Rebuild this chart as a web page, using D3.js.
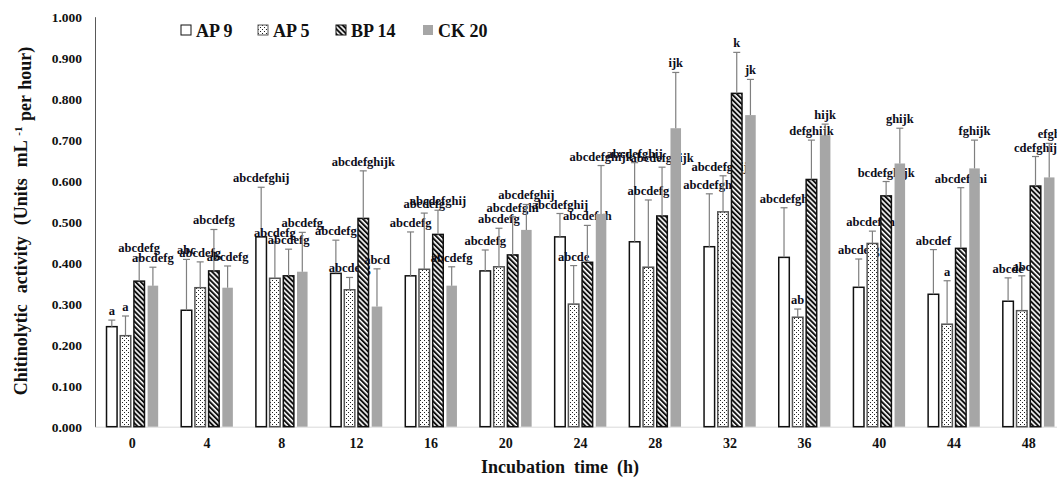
<!DOCTYPE html>
<html>
<head>
<meta charset="utf-8">
<script src="https://cdn.jsdelivr.net/npm/d3@7"></script>
<style>
  body { margin: 0; background: #fff; }
</style>
</head>
<body>
<script>
// Data
let hours = ["0", "4", "8", "12", "16", "20", "24", "28", "32", "36", "40", "44", "48"];
let seriesNames = ["AP 9", "AP 5", "BP 14", "CK 20"];

let ap9 = [0.244, 0.284, 0.463, 0.374, 0.368, 0.380, 0.463, 0.451, 0.439, 0.413, 0.340, 0.323, 0.306];
let ap5 = [0.222, 0.339, 0.362, 0.334, 0.384, 0.390, 0.299, 0.389, 0.524, 0.267, 0.447, 0.250, 0.283];
let bp14 = [0.355, 0.380, 0.368, 0.508, 0.469, 0.419, 0.401, 0.514, 0.813, 0.603, 0.563, 0.435, 0.587];
let ck20 = [0.344, 0.339, 0.378, 0.293, 0.344, 0.480, 0.519, 0.728, 0.760, 0.711, 0.642, 0.630, 0.608];

let ap9Err = [0.016, 0.124, 0.121, 0.081, 0.107, 0.051, 0.057, 0.193, 0.129, 0.121, 0.069, 0.109, 0.057];
let ap5Err = [0.048, 0.063, 0.089, 0.030, 0.137, 0.094, 0.094, 0.164, 0.088, 0.020, 0.030, 0.106, 0.085];
let bp14Err = [0.058, 0.101, 0.065, 0.116, 0.059, 0.093, 0.090, 0.119, 0.100, 0.096, 0.035, 0.148, 0.072];
let ck20Err = [0.045, 0.053, 0.096, 0.092, 0.046, 0.062, 0.118, 0.136, 0.087, 0.027, 0.086, 0.069, 0.083];

let ap9Letters = ["a", "abc", "abcdefghij", "abcdefg", "abcdefg", "abcdefg", "abcdefghij", "abcdefghij", "abcdefghi", "abcdefgh", "abcdefg", "abcdef", "abcde"];
let ap5Letters = ["a", "abcdefg", "abcdefg", "abcdefg", "abcdefg", "abcdefg", "abcde", "abcdefg", "abcdefghijk", "ab", "abcdefghi", "a", "abc"];
let bp14Letters = ["abcdefg", "abcdefg", "abcdefg", "abcdefghijk", "abcdefghij", "abcdefghi", "abcdefgh", "abcdefghijk", "k", "defghijk", "bcdefghijk", "abcdefghi", "cdefghij"];
let ck20Letters = ["abcdefg", "abcdefg", "abcdefg", "abcd", "abcdefg", "abcdefghij", "abcdefghijk", "ijk", "jk", "hijk", "ghijk", "fghijk", "efgh"];

let yTicks = [0, 0.1, 0.2, 0.3, 0.4, 0.5, 0.6, 0.7, 0.8, 0.9, 1.0];

// Dimensions
let width = 1057;
let height = 477;
let margin = { top: 16.7, bottom: 50.3, left: 95, right: -9 };
let serif = "'Liberation Serif', 'Times New Roman', Times, 'DejaVu Serif', serif";

let svg = d3
  .select("body")
  .append("svg")
  .attr("width", width)
  .attr("height", height)
  .style("background", "#fff")
  .style("font-family", serif)
  .style("font-weight", "bold");

// Fill patterns
let defs = svg.append("defs");

let dots = defs
  .append("pattern")
  .attr("id", "dots")
  .attr("patternUnits", "userSpaceOnUse")
  .attr("width", 4)
  .attr("height", 4);
dots.append("rect").attr("width", 4).attr("height", 4).attr("fill", "#fff");
dots.append("rect").attr("x", 0).attr("y", 0).attr("width", 1).attr("height", 1).attr("fill", "#222");
dots.append("rect").attr("x", 2).attr("y", 2).attr("width", 1).attr("height", 1).attr("fill", "#222");

let stripes = defs
  .append("pattern")
  .attr("id", "stripes")
  .attr("patternUnits", "userSpaceOnUse")
  .attr("width", 3.6)
  .attr("height", 3.6)
  .attr("patternTransform", "rotate(-45)");
stripes.append("rect").attr("width", 3.6).attr("height", 3.6).attr("fill", "#fff");
stripes.append("rect").attr("width", 2).attr("height", 3.6).attr("fill", "#111");

let series = [
  { name: seriesNames[0], values: ap9, err: ap9Err, letters: ap9Letters, fill: "#fff", stroke: "#111" },
  { name: seriesNames[1], values: ap5, err: ap5Err, letters: ap5Letters, fill: "url(#dots)", stroke: "#555" },
  { name: seriesNames[2], values: bp14, err: bp14Err, letters: bp14Letters, fill: "url(#stripes)", stroke: "#111" },
  { name: seriesNames[3], values: ck20, err: ck20Err, letters: ck20Letters, fill: "#a6a6a6", stroke: "none" },
];

// Scales
let xScale = d3
  .scaleBand()
  .domain(hours)
  .range([margin.left, width - margin.right]);

let xInner = d3
  .scaleBand()
  .domain(seriesNames)
  .range([0, xScale.bandwidth()])
  .paddingInner(0.23)
  .paddingOuter(0.84);

let yScale = d3
  .scaleLinear()
  .domain([0, 1])
  .range([height - margin.bottom, margin.top]);

// Axes
let yAxis = svg
  .append("g")
  .attr("transform", `translate(${margin.left}, 0)`)
  .call(d3.axisLeft(yScale).tickValues(yTicks).tickFormat(d3.format(".3f")).tickSize(0).tickPadding(13));
yAxis.attr("font-family", null);
yAxis.select(".domain").attr("stroke", "#595959");
yAxis.selectAll("text").style("font-size", "13.5px").style("font-family", serif).attr("fill", "#111");

let xAxis = svg
  .append("g")
  .attr("transform", `translate(0, ${height - margin.bottom})`)
  .call(d3.axisBottom(xScale).tickSize(0).tickPadding(11));
xAxis.attr("font-family", null);
xAxis.select(".domain").attr("stroke", "#d9d9d9");
xAxis.selectAll("text").style("font-size", "14px").style("font-family", serif).attr("fill", "#111");

// Bars, error bars and letters, one series after another
let capHalf = 3.5;
series.forEach((s) => {
  let g = svg.append("g").attr("class", "series");
  let rows = hours.map((h, i) => ({ hour: h, v: s.values[i], e: s.err[i], t: s.letters[i] }));
  let bx = (d) => xScale(d.hour) + xInner(s.name);
  let cx = (d) => bx(d) + xInner.bandwidth() / 2;

  g.selectAll("rect")
    .data(rows)
    .join("rect")
    .attr("x", bx)
    .attr("y", (d) => yScale(d.v))
    .attr("width", xInner.bandwidth())
    .attr("height", (d) => yScale(0) - yScale(d.v))
    .attr("fill", s.fill)
    .attr("stroke", s.stroke)
    .attr("stroke-width", s.stroke === "none" ? 0 : 1.5);

  g.selectAll("line.whisker")
    .data(rows)
    .join("line")
    .attr("class", "whisker")
    .attr("x1", cx)
    .attr("x2", cx)
    .attr("y1", (d) => yScale(d.v))
    .attr("y2", (d) => yScale(d.v + d.e))
    .attr("stroke", "#7f7f7f")
    .attr("stroke-width", 1.2);

  g.selectAll("line.cap")
    .data(rows)
    .join("line")
    .attr("class", "cap")
    .attr("x1", (d) => cx(d) - capHalf)
    .attr("x2", (d) => cx(d) + capHalf)
    .attr("y1", (d) => yScale(d.v + d.e))
    .attr("y2", (d) => yScale(d.v + d.e))
    .attr("stroke", "#7f7f7f")
    .attr("stroke-width", 1.2);

  g.selectAll("text")
    .data(rows)
    .join("text")
    .attr("x", cx)
    .attr("y", (d) => yScale(d.v + d.e) - 5)
    .text((d) => d.t)
    .style("text-anchor", "middle")
    .style("font-size", "12.5px")
    .attr("fill", "#0d0d1a");
});

// Legend
let legendX = [181, 258, 336, 423];
let legend = svg
  .selectAll(".legend")
  .data(series)
  .join("g")
  .attr("class", "legend")
  .attr("transform", (d, i) => `translate(${legendX[i]}, 25)`);

legend
  .append("rect")
  .attr("width", 10)
  .attr("height", 10)
  .attr("fill", (d) => d.fill)
  .attr("stroke", (d) => (d.stroke === "none" ? "none" : d.stroke))
  .attr("stroke-width", 1);

legend
  .append("text")
  .attr("x", 15)
  .attr("y", 11.5)
  .text((d) => d.name)
  .style("font-size", "18px")
  .attr("fill", "#111");

// Axis titles
svg
  .append("text")
  .attr("x", 560)
  .attr("y", 473)
  .text("Incubation  time  (h)")
  .style("text-anchor", "middle")
  .style("font-size", "18px")
  .style("white-space", "pre")
  .attr("fill", "#111");

let yTitle = svg
  .append("text")
  .attr("transform", "translate(27, 221) rotate(-90)")
  .style("text-anchor", "middle")
  .style("font-size", "18px")
  .style("word-spacing", "1px")
  .style("white-space", "pre")
  .attr("fill", "#111");
yTitle.append("tspan").text("Chitinolytic  activity  (Units  mL ");
yTitle.append("tspan").text("-1").attr("dy", "-0.5em").style("font-size", "11px");
yTitle.append("tspan").text(" per hour)").attr("dy", "0.5em");
</script>
</body>
</html>
